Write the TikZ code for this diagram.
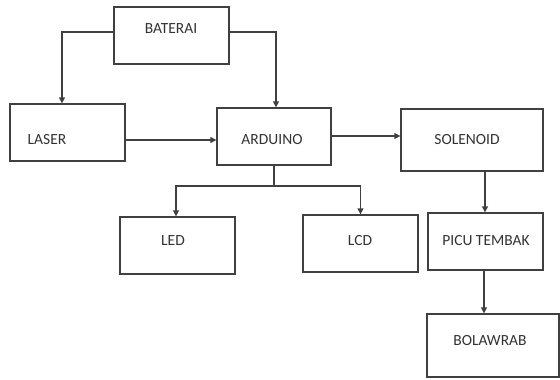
\documentclass[tikz,border=0pt]{standalone}
\usepackage{fontspec}
\setmainfont{Carlito}
\usetikzlibrary{arrows.meta}
\begin{document}
\begin{tikzpicture}[x=1pt,y=-1pt,
  box/.style={draw=black!75, line width=1.3pt, inner sep=0pt},
  lbl/.style={text=black!80, font=\fontsize{15.5}{17}\selectfont, inner sep=0pt},
  arr/.style={draw=black!75, line width=1.3pt, -{Triangle[width=6pt,length=6pt]}},
  ln/.style={draw=black!75, line width=1.3pt}]
\useasboundingbox[fill=white] (0,0) rectangle (560,380);
% boxes
\node[box, minimum width=115pt, minimum height=57pt] (bat) at (171.5,35.5) {};
\node[box, minimum width=115pt, minimum height=57pt] (laser) at (67.5,132.5) {};
\node[box, minimum width=114pt, minimum height=57pt] (ard) at (274,136.5) {};
\node[box, minimum width=142pt, minimum height=62pt] (sol) at (472,140) {};
\node[box, minimum width=115pt, minimum height=57pt] (led) at (177.5,245.5) {};
\node[box, minimum width=115pt, minimum height=57pt] (lcd) at (360.5,243.5) {};
\node[box, minimum width=115pt, minimum height=57pt] (picu) at (485.5,241.5) {};
\node[box, minimum width=132pt, minimum height=63pt] (bola) at (493,345.5) {};
% labels
\node[lbl] (tbat) at (171,29) {BATERAI};
\node[lbl] (tlaser) at (47,140) {LASER};
\node[lbl] (tard) at (272,140) {ARDUINO};
\node[lbl] (tsol) at (467,140) {SOLENOID};
\node[lbl] (tled) at (173,241) {LED};
\node[lbl] (tlcd) at (360,241) {LCD};
\node[lbl] (tpicu) at (486,241) {PICU TEMBAK};
\node[lbl] (tbola) at (490,341) {BOLAWRAB};
% connectors
\draw[arr] ([yshift=3.5pt]bat.west) -| ([xshift=-5.5pt]laser.north);
\draw[arr] ([yshift=3.5pt]bat.east) -| ([xshift=2pt]ard.north);
\draw[arr] ([yshift=-7.5pt]laser.east) -- ([yshift=-7.5pt]laser.east -| ard.west);
\draw[arr] ([yshift=0.5pt]ard.east) -- ([yshift=0.5pt]ard.east -| sol.west);
\coordinate (j) at (274,186);
\draw[ln] (ard.south) -- (j);
\draw[arr] (j) -| ([xshift=-1.5pt]led.north);
\draw[arr] (j) -| (lcd.north);
\draw[arr] ([xshift=-0.5pt]sol.south -| picu.north) -- ([xshift=-0.5pt]picu.north);
\draw[arr] ([xshift=-1.5pt]picu.south) -- ([xshift=-1.5pt]picu.south |- bola.north);
\end{tikzpicture}
\end{document}
